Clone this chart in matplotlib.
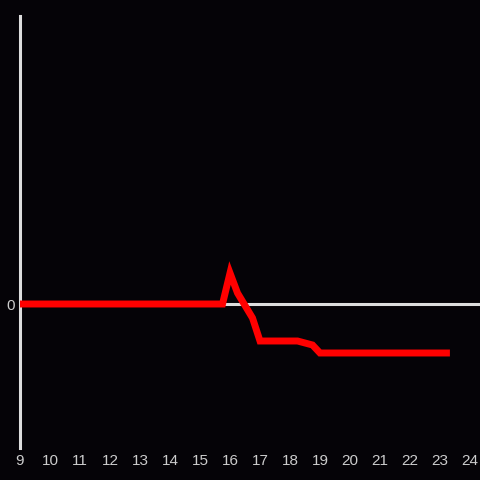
import matplotlib
matplotlib.use("Agg")
import matplotlib.pyplot as plt

# hours of the day and the value at each
hours = [9, 15.75, 16.0, 16.25, 16.75, 17.0, 18.25, 18.75, 19.0, 23.33]
values = [0, 0, 3.1, 1.1, -1.4, -3.7, -3.7, -4.1, -4.9, -4.9]
xticks = list(range(9, 25))

bg = "#050307"
fg = "#dddddd"

fig = plt.figure(figsize=(4.8, 4.8), dpi=100, facecolor=bg)
ax = fig.add_axes([20 / 480, 32 / 480, 460 / 480, 432 / 480])
ax.set_facecolor(bg)

ax.set_xlim(9, 24.333)
ax.set_ylim(-14.4, 28.8)

ax.axhline(0, color=fg, lw=2.2, zorder=1)
ax.plot(hours, values, color="#ff0000", lw=5, solid_joinstyle="miter",
        solid_capstyle="butt", zorder=3, clip_on=False)

for s in ["top", "right", "bottom"]:
    ax.spines[s].set_visible(False)
ax.spines["left"].set_color(fg)
ax.spines["left"].set_linewidth(2.2)

ax.set_xticks(xticks)
ax.set_xticklabels([str(t) for t in xticks])
ax.set_yticks([0])
ax.set_yticklabels(["0"])
ax.tick_params(length=0, colors=fg, labelsize=11, pad=4)
for lab in ax.get_xticklabels() + ax.get_yticklabels():
    lab.set_fontfamily("Liberation Sans")
    lab.set_color("#cccccc")

fig.savefig("out.png", dpi=100, facecolor=bg)
